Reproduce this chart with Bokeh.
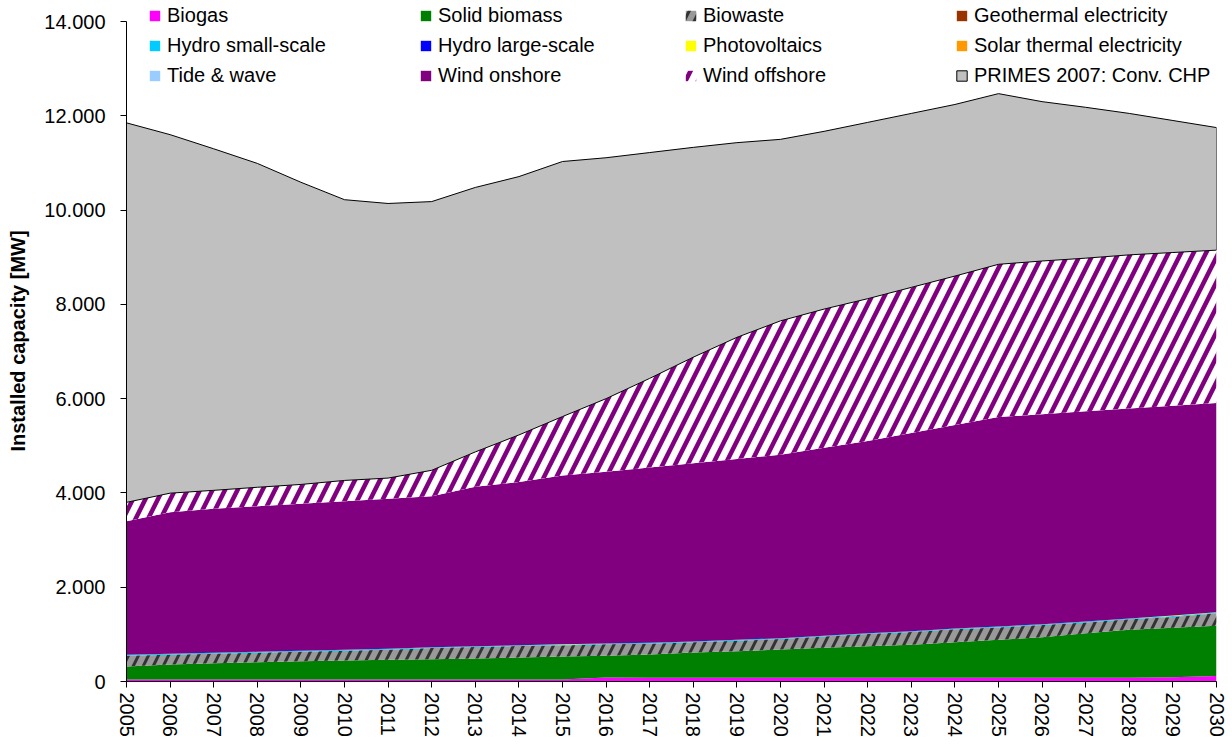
import numpy as np
from bokeh.plotting import figure
from bokeh.models import ColumnDataSource, FixedTicker, Legend, LegendItem, Range1d
from bokeh.transform import stack
from bokeh.embed import file_html
from bokeh.resources import INLINE

years = list(range(2005, 2031))

biogas = [45, 45, 45, 45, 45, 45, 45, 45, 45, 45, 45, 85, 80, 80, 80, 80, 80, 80, 80, 80,
          80, 80, 80, 80, 88, 118]
solid_biomass = [273, 315, 344, 365, 385, 402, 415, 428, 445, 464, 485, 460, 495, 535, 563, 599,
                 634, 669, 698, 754, 804, 860, 945, 1016, 1051, 1063]
biowaste = [230, 209, 201, 202, 202, 207, 215, 237, 242, 243, 234, 243, 227, 215, 223, 222,
            240, 258, 271, 272, 264, 258, 229, 222, 231, 266]
geothermal = [0] * 26
hydro_small = [18] * 26
hydro_large = [0] * 26
photovoltaics = [0, 0, 0, 0, 0, 0, 0, 0, 0, 0, 10, 0, 0, 0, 0, 0, 0, 0, 0, 0, 0, 0, 0, 0, 12, 5]
solar_thermal = [0] * 26
tide_wave = [0] * 26
wind_onshore = [2834, 3003, 3055, 3090, 3120, 3153, 3182, 3202, 3380, 3460, 3578, 3644, 3720,
                3782, 3836, 3891, 3988, 4075, 4203, 4316, 4444, 4454, 4458, 4454, 4450, 4440]
wind_offshore = [400, 405, 392, 400, 410, 440, 440, 550, 740, 1000, 1250, 1550, 1890, 2250,
                 2580, 2840, 2940, 3020, 3090, 3160, 3240, 3250, 3250, 3260, 3250, 3240]
primes_chp = [8050, 7605, 7245, 6870, 6410, 5955, 5825, 5700, 5610, 5480, 5410, 5110, 4790,
              4450, 4130, 3850, 3770, 3740, 3690, 3640, 3620, 3380, 3200, 3000, 2800, 2600]

y_ticks = [0, 2000, 4000, 6000, 8000, 10000, 12000, 14000]
y_tick_labels = ["0", "2.000", "4.000", "6.000", "8.000", "10.000", "12.000", "14.000"]

FONT = "Liberation Sans"

series = [
    ("biogas", "Biogas", biogas, dict(fill_color="#FF00FF")),
    ("solid_biomass", "Solid biomass", solid_biomass, dict(fill_color="#008000")),
    ("biowaste", "Biowaste", biowaste, dict(fill_color="#999999", hatch_pattern="/",
                                             hatch_color="#333333", hatch_scale=20, hatch_weight=3)),
    ("geothermal", "Geothermal electricity", geothermal, dict(fill_color="#993300")),
    ("hydro_small", "Hydro small-scale", hydro_small, dict(fill_color="#00CCFF")),
    ("hydro_large", "Hydro large-scale", hydro_large, dict(fill_color="#0000FF")),
    ("photovoltaics", "Photovoltaics", photovoltaics, dict(fill_color="#FFFF00")),
    ("solar_thermal", "Solar thermal electricity", solar_thermal, dict(fill_color="#FF9900")),
    ("tide_wave", "Tide & wave", tide_wave, dict(fill_color="#99CCFF")),
    ("wind_onshore", "Wind onshore", wind_onshore, dict(fill_color="#800080")),
    ("wind_offshore", "Wind offshore", wind_offshore, dict(fill_color="#FFFFFF", hatch_pattern="/",
                                                          hatch_color="#800080", hatch_scale=25,
                                                          hatch_weight=4.5)),
]

data = {"year": years}
for key, _, vals, _ in series:
    data[key] = vals
src = ColumnDataSource(data)

# frame spans the full top of the page so the legend (which overlaps the top) is not clipped;
# the y axis itself is bounded to 0..14000
Y_TOP = 14000 * 681.0 / 660.0
p = figure(width=1232, height=745, output_backend="svg", toolbar_location=None,
           x_range=Range1d(2005, 2030), y_range=Range1d(0, Y_TOP),
           min_border_left=126, min_border_right=16, min_border_top=0, min_border_bottom=64)
p.outline_line_color = None
p.grid.visible = False
p.background_fill_color = "white"

keys = [s[0] for s in series]
renderers = {}
for i, (key, label, vals, style) in enumerate(series):
    y1 = stack(*keys[:i]) if i > 0 else 0
    r = p.varea(x="year", y1=y1, y2=stack(*keys[:i + 1]), source=src, **style)
    renderers[label] = r

lower = np.zeros(len(years))
for key, _, vals, _ in series:
    lower = lower + np.array(vals, dtype=float)
upper = lower + np.array(primes_chp, dtype=float)
px = list(years) + list(years[::-1])
py = list(upper) + list(lower[::-1])
rp = p.patch(px, py, fill_color="#C0C0C0", line_color="black", line_width=1)
renderers["PRIMES 2007: Conv. CHP"] = rp

# axes
p.xaxis.ticker = FixedTicker(ticks=years)
p.xaxis.major_label_overrides = {y: str(y) for y in years}
p.xaxis.major_label_orientation = "vertical"
p.yaxis.ticker = FixedTicker(ticks=y_ticks)
p.yaxis.major_label_overrides = {t: l for t, l in zip(y_ticks, y_tick_labels)}
p.yaxis.bounds = (y_ticks[0], y_ticks[-1])
for ax in (p.xaxis[0], p.yaxis[0]):
    ax.major_label_text_font = FONT
    ax.major_label_text_font_size = "20px"
    ax.major_label_text_color = "black"
    ax.axis_line_color = "black"
    ax.major_tick_line_color = "black"
    ax.minor_tick_line_color = None
    ax.major_tick_in = 0
    ax.major_tick_out = 6
p.xaxis.major_label_standoff = 5
p.yaxis.major_label_standoff = 15
p.yaxis.axis_label = "Installed capacity [MW]"
p.yaxis.axis_label_text_font = FONT
p.yaxis.axis_label_text_font_size = "20px"
p.yaxis.axis_label_text_font_style = "bold"
p.yaxis.axis_label_text_color = "black"
p.yaxis.axis_label_standoff = 12

columns = [
    ["Biogas", "Hydro small-scale", "Tide & wave"],
    ["Solid biomass", "Hydro large-scale", "Wind onshore"],
    ["Biowaste", "Photovoltaics", "Wind offshore"],
    ["Geothermal electricity", "Solar thermal electricity", "PRIMES 2007: Conv. CHP"],
]
col_x = [22, 293, 558, 829]
for cx, labels in zip(col_x, columns):
    items = [LegendItem(label=l, renderers=[renderers[l]]) for l in labels]
    lg = Legend(items=items, location=(cx, 594), orientation="vertical",
                padding=0, margin=0, spacing=7, glyph_width=13, glyph_height=13,
                label_standoff=6, label_height=20,
                label_text_font=FONT, label_text_font_size="20px", label_text_color="black",
                border_line_alpha=0, background_fill_alpha=0)
    p.add_layout(lg, "center")

open("out.html", "w").write(file_html(p, INLINE))
